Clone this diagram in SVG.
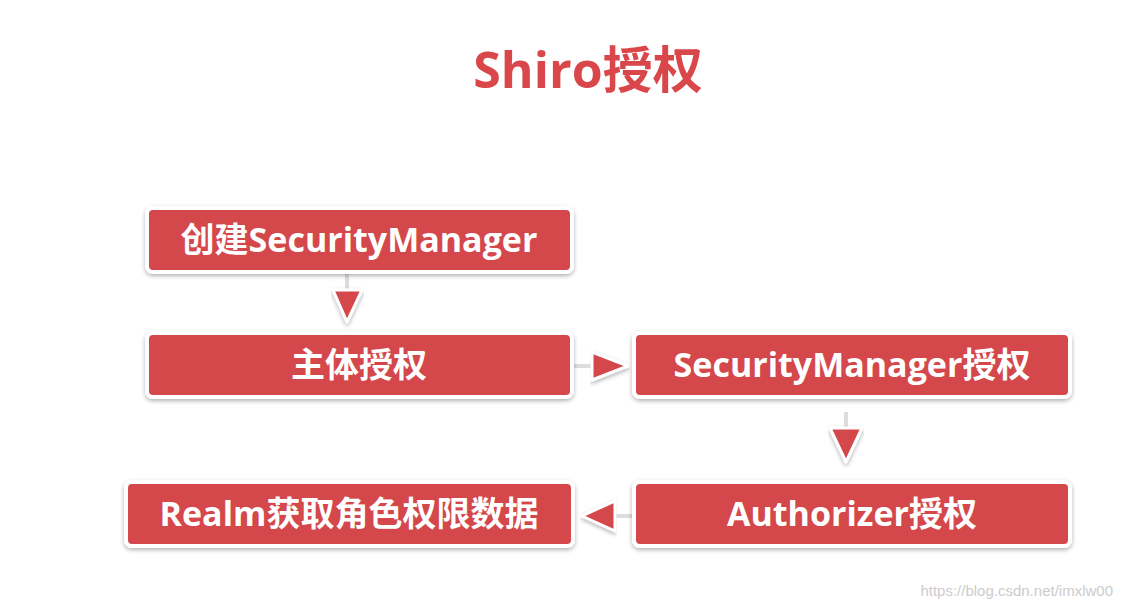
<svg xmlns="http://www.w3.org/2000/svg" width="1122" height="607" viewBox="0 0 1122 607">
<defs>
<filter id="sh" x="-5%" y="-20%" width="110%" height="150%"><feDropShadow dx="0" dy="2" stdDeviation="2" flood-color="#000" flood-opacity="0.3"/></filter>
<style>
.box{fill:#d4474c;stroke:#fff;stroke-width:4;filter:url(#sh)}
.t{fill:#fff;font-family:"Open Sans","Noto Sans CJK SC",sans-serif;font-weight:bold;font-size:34px;text-anchor:middle}
.ar{fill:#d4474c;stroke:#fff;stroke-width:3;stroke-linejoin:round;filter:url(#sh)}
.stub{stroke:#ddd;stroke-width:4}
</style>
</defs>
<rect width="1122" height="607" fill="#fff"/>
<text x="588" y="88" fill="#d9474b" font-family="'Open Sans','Noto Sans CJK SC',sans-serif" font-weight="bold" font-size="50" text-anchor="middle">Shiro授权</text>
<g id="connectors">
<line class="stub" x1="347" y1="274" x2="347" y2="292"/>
<polygon class="ar" points="333,290 362,290 347,322"/>
<line class="stub" x1="574" y1="366" x2="594" y2="366"/>
<polygon class="ar" points="592,352 592,380 628,366"/>
<line class="stub" x1="846" y1="412" x2="846" y2="430"/>
<polygon class="ar" points="830,428 862,428 846,462"/>
<line class="stub" x1="632" y1="516" x2="613" y2="516"/>
<polygon class="ar" points="615,501 615,531 582,516"/>
</g>
<g id="n1"><rect class="box" x="147" y="208" width="425" height="64" rx="6"/><text class="t" x="359" y="252">创建SecurityManager</text></g>
<g id="n2"><rect class="box" x="147" y="333" width="425" height="64" rx="6"/><text class="t" x="359" y="377">主体授权</text></g>
<g id="n3"><rect class="box" x="634" y="333" width="436" height="64" rx="6"/><text class="t" x="852" y="377">SecurityManager授权</text></g>
<g id="n4"><rect class="box" x="634" y="482" width="436" height="64" rx="6"/><text class="t" x="852" y="526">Authorizer授权</text></g>
<g id="n5"><rect class="box" x="126" y="482" width="447" height="64" rx="6"/><text class="t" x="349" y="526">Realm获取角色权限数据</text></g>
<text x="1113" y="596" fill="#ccc" font-family="'Liberation Sans',sans-serif" font-size="15" text-anchor="end">https://blog.csdn.net/imxlw00</text>
</svg>
